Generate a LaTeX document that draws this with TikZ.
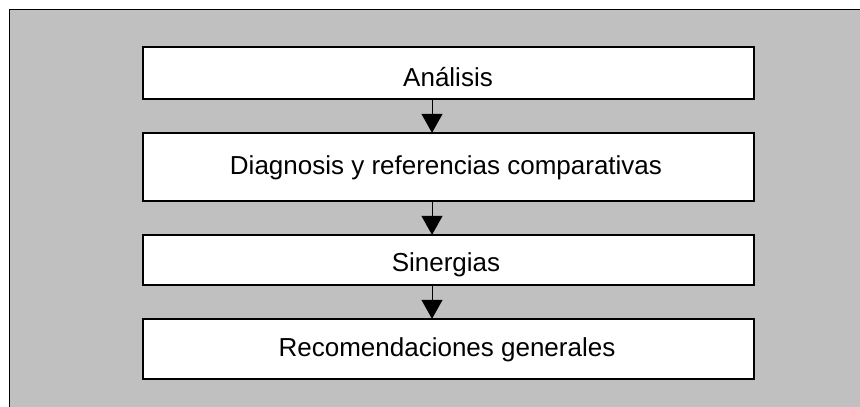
\documentclass[tikz,border=0pt]{standalone}
\usepackage{fontspec}
\setmainfont{Liberation Sans}
\usetikzlibrary{arrows.meta}
\definecolor{bggray}{HTML}{C0C0C0}
\tikzset{
  stagebox/.style={draw=black, fill=white, line width=1.3pt},
  stagetext/.style={anchor=base, inner sep=0pt, font=\fontsize{26}{30}\selectfont},
  flowarrow/.style={draw=black, line width=1pt, -{Triangle[width=21pt,length=19pt]}, shorten >=-0.5pt},
}
\begin{document}
\begin{tikzpicture}[x=1pt,y=-1pt]
\useasboundingbox (0,0) rectangle (860,407);
\clip (0,0) rectangle (860,407);
\draw[fill=bggray, line width=1.3pt] (9.5,9.5) rectangle (880,430);
\node[stagebox, minimum width=611pt, minimum height=52pt, inner sep=0pt] (b1) at (448.5,73) {};
\node[stagebox, minimum width=611pt, minimum height=68pt, inner sep=0pt] (b2) at (448.5,167) {};
\node[stagebox, minimum width=611pt, minimum height=50pt, inner sep=0pt] (b3) at (448.5,260) {};
\node[stagebox, minimum width=611pt, minimum height=60pt, inner sep=0pt] (b4) at (448.5,349) {};
\node[stagetext] (t1) at (448,86) {Análisis};
\node[stagetext] (t2) at (446,174) {Diagnosis y referencias comparativas};
\begin{scope}
\clip (b3.south west) rectangle (b3.north east);
\node[stagetext] (t3) at (446,271) {Sinergias};
\end{scope}
\node[stagetext] (t4) at (447,356) {Recomendaciones generales};
\coordinate (ax) at (432,0);
\draw[flowarrow] (b1.south -| ax) -- (b2.north -| ax);
\draw[flowarrow] (b2.south -| ax) -- (b3.north -| ax);
\draw[flowarrow] (b3.south -| ax) -- (b4.north -| ax);
\end{tikzpicture}
\end{document}
